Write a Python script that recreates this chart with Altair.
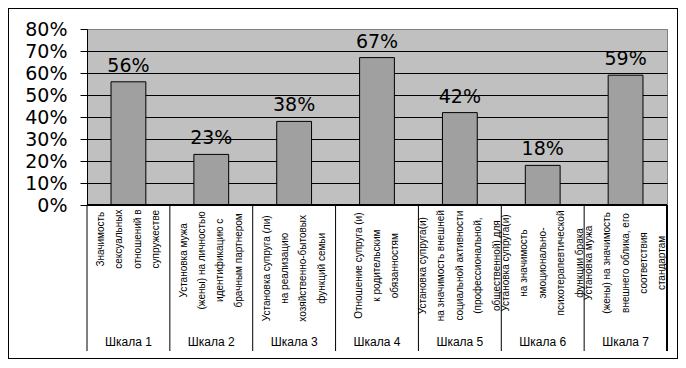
import altair as alt
import pandas as pd

categories = ["Шкала 1", "Шкала 2", "Шкала 3", "Шкала 4", "Шкала 5", "Шкала 6", "Шкала 7"]
values = [0.56, 0.23, 0.38, 0.67, 0.42, 0.18, 0.59]
descriptions = [
    ["Значимость", "сексуальных", "отношений в", "супружестве"],
    ["Установка мужа", "(жены) на личностью", "идентификацию с", "брачным партнером"],
    ["Установка супруга (ли)", "на реализацию", "хозяйственно-бытовых", "функций семьи"],
    ["Отношение супруга (и)", "к родительским", "обязанностям"],
    ["Установка супруга(и)", "на значимость внешней", "социальной активности",
     "(профессиональной,", "общественной) для"],
    ["Установка супруга(и)", "на значимость", "эмоционально-",
     "психотерапевтической", "функции брака"],
    ["Установка мужа", "(жены) на значимость", "внешнего облика, его",
     "соответствия", "стандартам"],
]
y_ticks = [0, 0.1, 0.2, 0.3, 0.4, 0.5, 0.6, 0.7, 0.8]

W, H = 580, 176
LABEL_TOP = H + 5          # top of the longest rotated line
CHAR_W = 5.3               # approx. char width of the small label font
LINE_H = 18.4

df = pd.DataFrame({"cat": categories, "val": values})
desc_df = pd.DataFrame({
    "cat": categories,
    "lines": descriptions,
    "n": [len(d) for d in descriptions],
    "yc": [LABEL_TOP + max(len(s) for s in d) * CHAR_W / 2 for d in descriptions],
})

xenc = alt.X("cat:N", sort=categories, axis=None,
             scale=alt.Scale(paddingInner=0, paddingOuter=0))
yenc = alt.Y("val:Q", scale=alt.Scale(domain=[0, 0.8], nice=False, zero=True),
             axis=alt.Axis(values=y_ticks, format=".0%", title=None,
                           domainColor="black", tickColor="black", tickSize=7,
                           labelPadding=13, labelFont="DejaVu Sans", labelFontSize=19,
                           labelColor="black",
                           gridColor=alt.condition("datum.value >= 0.79",
                                                   alt.value("#808080"), alt.value("black")),
                           gridWidth=1))

bars = alt.Chart(df).mark_bar(width={"band": 0.42}, fill="#A0A0A0",
                              stroke="black", strokeWidth=1).encode(x=xenc, y=yenc)

vlabels = alt.Chart(df).mark_text(baseline="alphabetic", dy=-10, font="DejaVu Sans",
                                  fontSize=19, color="black").encode(
    x=xenc,
    y=alt.Y("val:Q", scale=alt.Scale(domain=[0, 0.8], nice=False), axis=None),
    text=alt.Text("val:Q", format=".0%"),
)

bottom_line = alt.Chart(df).mark_rule(color="black", strokeWidth=1).encode(
    x=alt.value(0), x2=alt.value(W), y=alt.value(H))

seps = alt.Chart(df).mark_rule(color="black", strokeWidth=1).encode(
    x=alt.X("cat:N", sort=categories, axis=None, bandPosition=0),
    y=alt.value(H), y2=alt.value(H + 146))

right_sep = alt.Chart(df).mark_rule(color="black", strokeWidth=1).encode(
    x=alt.value(W), y=alt.value(H), y2=alt.value(H + 146))

desc_layers = []
for n in sorted(set(desc_df["n"])):
    desc_layers.append(
        alt.Chart(desc_df).transform_filter(alt.datum.n == n).mark_text(
            angle=270, align="center", baseline="middle", lineHeight=LINE_H,
            dy=-(n - 1) * LINE_H / 2, font="Liberation Sans", fontSize=10,
            color="black").encode(
            x=xenc,
            y=alt.Y("yc:Q", scale=None, axis=None),
            text="lines",
        )
    )

scale_text = alt.Chart(df).mark_text(baseline="middle", align="center",
                                     font="Liberation Sans", fontSize=12,
                                     color="black").encode(
    x=xenc, y=alt.value(H + 137), text="cat:N")

border = alt.Chart(df).mark_rect(fill=None, stroke="black", strokeWidth=1).encode(
    x=alt.value(-78.5), x2=alt.value(W + 10.5), y=alt.value(-20.5), y2=alt.value(H + 153.5))

chart = alt.layer(bars, vlabels, bottom_line, seps, right_sep, *desc_layers,
                  scale_text, border).resolve_scale(y="independent").properties(
    width=W, height=H,
    autosize=alt.AutoSizeParams(type="none"),
    padding={"left": 79, "top": 21, "right": 11, "bottom": 155},
    background="white",
).configure_view(fill="#C0C0C0", stroke="#808080", strokeWidth=1)

chart.save("out.html", embed_options={"renderer": "svg", "actions": False})
